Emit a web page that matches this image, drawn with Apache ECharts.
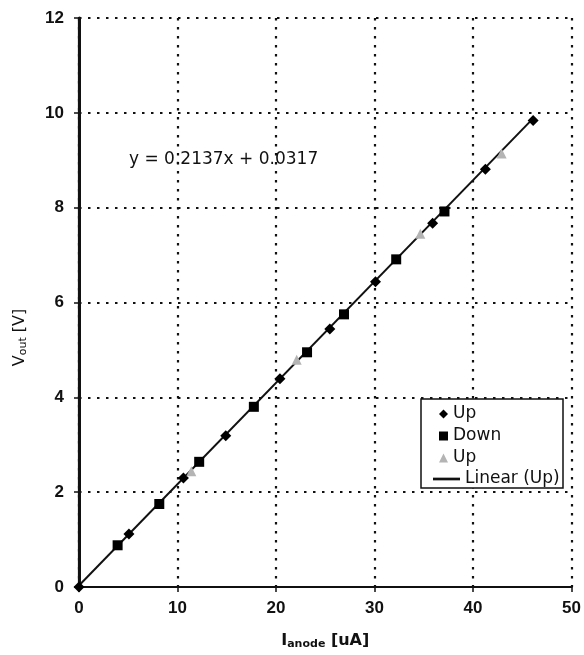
<!DOCTYPE html>
<html>
<head>
<meta charset="utf-8">
<script src="https://cdn.jsdelivr.net/npm/echarts@6/dist/echarts.min.js"></script>
<style>html,body{margin:0;padding:0;background:#fff;}#c{width:584px;height:655px;}</style>
</head>
<body>
<div id="c"></div>
<script>
// ---- data ----
const upX = [0, 5.07, 10.6, 14.9, 20.4, 25.46, 30.1, 35.9, 41.25, 46.1];
const upY = [0, 1.12, 2.30, 3.19, 4.39, 5.44, 6.44, 7.67, 8.81, 9.84];
const downX = [3.92, 8.15, 12.2, 17.75, 23.15, 26.9, 32.2, 37.1];
const downY = [0.88, 1.75, 2.64, 3.80, 4.95, 5.75, 6.91, 7.92];
const up2X = [11.4, 22.1, 34.65, 42.9];
const up2Y = [2.44, 4.79, 7.45, 9.14];
const fitSlope = 0.2137;
const fitIntercept = 0.0317;
const fitRangeX = [0, 46.1];
const xTicks = [0, 10, 20, 30, 40, 50];
const yTicks = [0, 2, 4, 6, 8, 10, 12];
const equationText = 'y = 0.2137x + 0.0317';
const legendNames = ['Up', 'Down', 'Up ', 'Linear (Up)'];

const zip = (a, b) => a.map((v, i) => [v, b[i]]);
const fitData = fitRangeX.map(x => [x, fitSlope * x + fitIntercept]);

const chart = echarts.init(document.getElementById('c'), null, {renderer: 'canvas'});
const dotted = {color: '#111', width: 2.2, type: [2.5, 6.5]};
const tickFont = {fontFamily: 'Liberation Sans', fontWeight: 'bold', fontSize: 17, color: '#111'};

chart.setOption({
  backgroundColor: '#fff',
  animation: false,
  grid: {left: 79, right: 12, top: 18, bottom: 62, show: false},
  xAxis: [{
    type: 'value', min: xTicks[0], max: xTicks[xTicks.length - 1], interval: 10,
    name: '{b|I}{bs|anode}{b| [uA]}', nameLocation: 'middle', nameGap: 45,
    nameTextStyle: {rich: {
      b: {fontFamily: 'DejaVu Sans', fontWeight: 'bold', fontSize: 16, color: '#111'},
      bs: {fontFamily: 'DejaVu Sans', fontWeight: 'bold', fontSize: 11, color: '#111', padding: [7, 0, 0, 0]}
    }},
    axisLine: {show: true, onZero: false, lineStyle: {color: '#111', width: 2.2}},
    axisTick: {show: true, inside: false, length: 5, lineStyle: {color: '#111', width: 1.5}},
    axisLabel: Object.assign({margin: 13}, tickFont),
    splitLine: {show: true, lineStyle: dotted}
  }, {
    type: 'value', position: 'top', min: 0, max: 50,
    axisLine: {show: true, lineStyle: {color: '#111', width: 1.5}},
    axisTick: {show: false}, axisLabel: {show: false}, splitLine: {show: false}
  }],
  yAxis: [{
    type: 'value', min: yTicks[0], max: yTicks[yTicks.length - 1], interval: 2,
    name: '{a|V}{s|out}{a| [V]}', nameLocation: 'middle', nameGap: 50,
    nameTextStyle: {padding: [0, 0, 0, -70], rich: {
      a: {fontFamily: 'DejaVu Sans', fontSize: 16, color: '#111'},
      s: {fontFamily: 'DejaVu Sans', fontSize: 11, color: '#111', padding: [7, 0, 0, 0]}
    }},
    axisLine: {show: true, onZero: false, lineStyle: {color: '#111', width: 2.2}},
    axisTick: {show: true, inside: false, length: 5, lineStyle: {color: '#111', width: 1.5}},
    axisLabel: Object.assign({margin: 15}, tickFont),
    splitLine: {show: true, lineStyle: dotted}
  }, {
    type: 'value', position: 'right', min: 0, max: 12,
    axisLine: {show: true, lineStyle: {color: '#111', width: 3}},
    axisTick: {show: false}, axisLabel: {show: false}, splitLine: {show: false}
  }],
  legend: [{
    data: [
      {name: legendNames[0], icon: 'diamond'},
      {name: legendNames[1], icon: 'rect'},
      {name: legendNames[2], icon: 'triangle'}
    ],
    orient: 'vertical', left: 434, top: 400, itemWidth: 9, itemHeight: 9,
    itemGap: 4, itemTextGap: 12, selectedMode: false, z: 10,
    formatter: n => n.trim(),
    textStyle: {fontFamily: 'DejaVu Sans', fontSize: 17, lineHeight: 18, color: '#111'}
  }, {
    data: [{name: legendNames[3], icon: 'path://M0,0 H10 V1 H0 Z'}],
    orient: 'vertical', left: 428, top: 465, itemWidth: 27, itemHeight: 9,
    itemTextGap: 2, selectedMode: false, z: 10, symbolKeepAspect: true,
    textStyle: {fontFamily: 'DejaVu Sans', fontSize: 17, lineHeight: 18, color: '#111'}
  }],
  graphic: [{
    type: 'rect', shape: {x: 421, y: 399, width: 142, height: 89},
    style: {fill: '#fff', stroke: '#111', lineWidth: 1.5}, z: 5
  }, {
    type: 'text', left: 129, top: 151, z: 5,
    style: {text: equationText, font: '17px "DejaVu Sans"', fill: '#111'}
  }],
  series: [{
    name: legendNames[3], type: 'line', data: fitData, showSymbol: false, symbol: 'none',
    lineStyle: {color: '#111', width: 2}, itemStyle: {color: '#111'}, z: 2
  }, {
    name: legendNames[0], type: 'scatter', symbol: 'diamond', symbolSize: 11,
    data: zip(upX, upY), itemStyle: {color: '#000', opacity: 1}, z: 3
  }, {
    name: legendNames[1], type: 'scatter', symbol: 'rect', symbolSize: 10,
    data: zip(downX, downY), itemStyle: {color: '#000', opacity: 1}, z: 3
  }, {
    name: legendNames[2], type: 'scatter', symbol: 'triangle', symbolSize: 10,
    data: zip(up2X, up2Y), itemStyle: {color: '#b4b4b4', opacity: 1}, z: 3
  }]
});
</script>
</body>
</html>
